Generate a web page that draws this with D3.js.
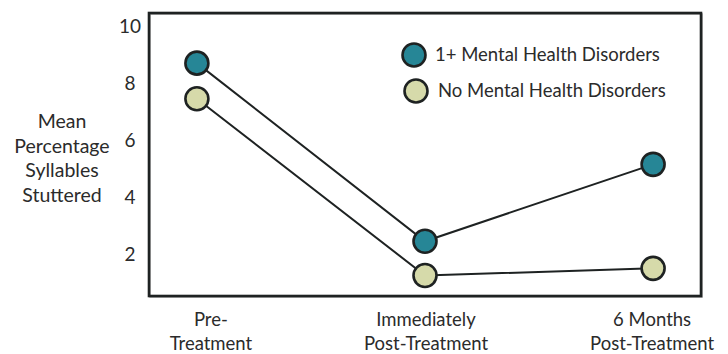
<!DOCTYPE html>
<html>
<head>
<meta charset="utf-8">
<script src="https://cdn.jsdelivr.net/npm/d3@7"></script>
<style>
  body { margin: 0; background: #fff; }
  text { font-family: Lato, "Open Sans", sans-serif; fill: #2b2b2b; }
</style>
</head>
<body>
<script>
// categories along the bottom
var phases = ["Pre-Treatment", "Immediately Post-Treatment", "6 Months Post-Treatment"];
var phaseLines = [["Pre-", "Treatment"], ["Immediately", "Post-Treatment"], ["6 Months", "Post-Treatment"]];

// mean % syllables stuttered
var withDisorders = [8.7, 2.45, 5.15];
var noDisorders = [7.45, 1.25, 1.5];

var seriesNames = ["1+ Mental Health Disorders", "No Mental Health Disorders"];
var yTicks = [2, 4, 6, 8, 10];
var yTitle = ["Mean", "Percentage", "Syllables", "Stuttered"];

var teal = "rgb(38,134,150)";
var beige = "rgb(214,218,170)";
var ink = "rgb(30,34,34)";

var w = 728, h = 354;
// plot frame (don't call these top/left, window.top is read-only)
var fLeft = 149, fRight = 701, fTop = 13, fBottom = 296;

var svg = d3.select("body")
.append("svg")
.attr("width", w)
.attr("height", h);

var x = d3.scalePoint()
.domain(phases)
.range([fLeft, fRight])
.padding(0.21);

var y = d3.scaleLinear()
.domain([0.53, 10.46])
.range([fBottom, fTop]);

// frame, slightly shadowed like the scan
svg.append("rect")
.attr("x", fLeft + 1)
.attr("y", fTop + 1)
.attr("width", fRight - fLeft)
.attr("height", fBottom - fTop)
.attr("fill", "none")
.attr("stroke", "#9a9a9a")
.attr("stroke-width", 1.5);

svg.append("rect")
.attr("x", fLeft)
.attr("y", fTop)
.attr("width", fRight - fLeft)
.attr("height", fBottom - fTop)
.attr("fill", "none")
.attr("stroke", ink)
.attr("stroke-width", 2.6);

// y tick labels
var yAxis = svg.append("g")
.attr("transform", "translate(130,0)")
.call(d3.axisLeft(y).tickValues(yTicks).tickSize(0).tickPadding(0));
yAxis.select(".domain").remove();
yAxis.selectAll("text")
.attr("text-anchor", "middle")
.attr("font-size", 19)
.style("font-family", "Lato, 'Open Sans', sans-serif")
.attr("fill", "#2b2b2b");

// y title
svg.append("g")
.selectAll("text")
.data(yTitle)
.enter()
.append("text")
.attr("x", 62)
.attr("y", function(d, i) { return 128 + i * 24.7; })
.attr("text-anchor", "middle")
.attr("font-size", 19.5)
.text(function(d) { return d; });

// x labels
var xl = svg.append("g")
.selectAll("g")
.data(phases)
.enter()
.append("text")
.attr("text-anchor", "middle")
.attr("font-size", 18.5)
.attr("transform", function(d, i) {
  var off = [14, 1, -1][i];
  return "translate(" + (x(d) + off) + ",0)";
});
xl.selectAll("tspan")
.data(function(d, i) { return phaseLines[i]; })
.enter()
.append("tspan")
.attr("x", 0)
.attr("y", function(d, i) { return 326 + i * 24; })
.text(function(d) { return d; });

var series = [
  {name: seriesNames[0], values: withDisorders, fill: teal},
  {name: seriesNames[1], values: noDisorders, fill: beige}
];

var line = d3.line()
.x(function(d, i) { return x(phases[i]); })
.y(function(d) { return y(d); });

svg.selectAll("path.series")
.data(series)
.enter()
.append("path")
.attr("class", "series")
.attr("d", function(d) { return line(d.values); })
.attr("fill", "none")
.attr("stroke", ink)
.attr("stroke-width", 2);

series.forEach(function(s) {
  svg.append("g")
  .selectAll("circle")
  .data(s.values)
  .enter()
  .append("circle")
  .attr("cx", function(d, i) { return x(phases[i]); })
  .attr("cy", function(d) { return y(d); })
  .attr("r", 11.5)
  .attr("fill", s.fill)
  .attr("stroke", ink)
  .attr("stroke-width", 2.6);
});

// legend
var legend = svg.append("g")
.selectAll("g")
.data(series)
.enter()
.append("g")
.attr("transform", function(d, i) { return "translate(414," + (55 + i * 36) + ")"; });

legend.append("circle")
.attr("cx", function(d, i) { return i * 2; })
.attr("r", 11.5)
.attr("fill", function(d) { return d.fill; })
.attr("stroke", ink)
.attr("stroke-width", 2.6);

legend.append("text")
.attr("x", function(d, i) { return 21 + i * 3; })
.attr("y", 6)
.attr("font-size", 18.5)
.text(function(d) { return d.name; });
</script>
</body>
</html>
